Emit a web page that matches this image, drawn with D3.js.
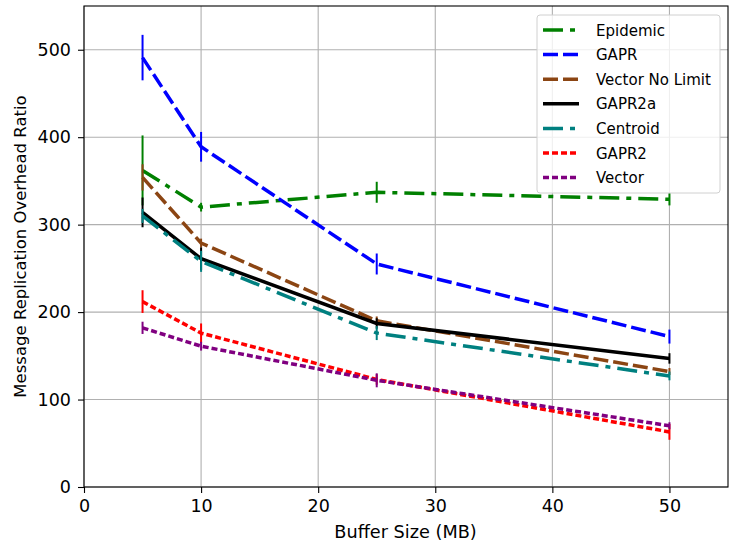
<!DOCTYPE html>
<html><head><meta charset="utf-8">
<script src="https://cdn.jsdelivr.net/npm/d3@7"></script>
<style>body{margin:0;background:#fff}svg{display:block}text{font-family:"DejaVu Sans",sans-serif;fill:#000}</style>
</head><body><svg id="c" width="730" height="548"></svg>
<script>
const bufferSizes = [5, 10, 25, 50];
const xTicks = [0, 10, 20, 30, 40, 50];
const yTicks = [0, 100, 200, 300, 400, 500];
const seriesNames = ["Epidemic", "GAPR", "Vector No Limit", "GAPR2a", "Centroid", "GAPR2", "Vector"];
const epidemic = [362, 320, 337, 329];
const epidemicErr = [40, 5, 12, 7];
const gapr = [491, 389, 255, 172];
const gaprErr = [26, 17, 12, 8];
const vectorNoLimit = [354, 279, 190, 132];
const vectorNoLimitErr = [15, 5, 5, 4];
const gapr2a = [314, 261, 187, 147];
const gapr2aErr = [17, 13, 6, 6];
const centroid = [310, 258, 176, 127];
const centroidErr = [8, 12, 8, 5];
const gapr2 = [212, 176, 123, 63];
const gapr2Err = [13, 11, 6, 9];
const vector = [182, 161, 122, 70];
const vectorErr = [7, 5, 8, 4];

const values = [epidemic, gapr, vectorNoLimit, gapr2a, centroid, gapr2, vector];
const errs = [epidemicErr, gaprErr, vectorNoLimitErr, gapr2aErr, centroidErr, gapr2Err, vectorErr];
const colors = ["#008000", "#0000ff", "#8b4513", "#000000", "#008080", "#ff0000", "#800080"];
const dashes = ["20,7,5,7", "15,5", "15,5", null, "20,7,5,7", "6,3", "6,3"];

const svg = d3.select("#c");
const L = 84, R = 728, T = 6, B = 487;
const x = d3.scaleLinear().domain([0, 55]).range([L, R]);
const y = d3.scaleLinear().domain([0, 550]).range([B, T]);

// grid
svg.append("g").selectAll("line").data(xTicks).join("line")
  .attr("x1", d => x(d)).attr("x2", d => x(d)).attr("y1", T).attr("y2", B)
  .attr("stroke", "#b0b0b0").attr("stroke-width", 1.1);
svg.append("g").selectAll("line").data(yTicks).join("line")
  .attr("x1", L).attr("x2", R).attr("y1", d => y(d)).attr("y2", d => y(d))
  .attr("stroke", "#b0b0b0").attr("stroke-width", 1.1);

// series
const line = d3.line().x(d => x(d[0])).y(d => y(d[1]));
values.forEach((vals, i) => {
  const g = svg.append("g");
  const pts = bufferSizes.map((b, j) => [b, vals[j], errs[i][j]]);
  g.selectAll("line").data(pts).join("line")
    .attr("x1", d => x(d[0])).attr("x2", d => x(d[0]))
    .attr("y1", d => y(d[1] - d[2])).attr("y2", d => y(d[1] + d[2]))
    .attr("stroke", colors[i]).attr("stroke-width", 2);
  g.append("path").attr("d", line(pts)).attr("fill", "none")
    .attr("stroke", colors[i]).attr("stroke-width", 3.5)
    .attr("stroke-dasharray", dashes[i]);
});

// axes
const xa = svg.append("g").attr("transform", `translate(0,${B})`)
  .call(d3.axisBottom(x).tickValues(xTicks).tickSize(6).tickPadding(7));
const ya = svg.append("g").attr("transform", `translate(${L},0)`)
  .call(d3.axisLeft(y).tickValues(yTicks).tickSize(6).tickPadding(7));
[xa, ya].forEach(a => {
  a.select(".domain").remove();
  a.selectAll(".tick line").attr("stroke", "#000").attr("stroke-width", 1.1);
  a.selectAll("text").attr("font-size", 17.5).attr("font-family", "DejaVu Sans");
});
svg.append("rect").attr("x", L).attr("y", T).attr("width", R - L).attr("height", B - T)
  .attr("fill", "none").attr("stroke", "#000").attr("stroke-width", 1.1);

svg.append("text").attr("x", (L + R) / 2 - 0.5).attr("y", 538).attr("text-anchor", "middle")
  .attr("font-size", 17.7).text("Buffer Size (MB)");
svg.append("text").attr("transform", `translate(26,${(T + B) / 2}) rotate(-90)`)
  .attr("text-anchor", "middle").attr("font-size", 16.5).text("Message Replication Overhead Ratio");

// legend
const lg = svg.append("g");
lg.append("rect").attr("x", 537).attr("y", 15).attr("width", 183).attr("height", 178)
  .attr("rx", 3).attr("fill", "#fff").attr("fill-opacity", 0.8)
  .attr("stroke", "#d0d0d0").attr("stroke-width", 1);
seriesNames.forEach((name, i) => {
  const yy = 30 + i * 24.6;
  lg.append("line").attr("x1", 543).attr("x2", 579).attr("y1", yy).attr("y2", yy)
    .attr("stroke", colors[i]).attr("stroke-width", 3.5).attr("stroke-dasharray", dashes[i]);
  lg.append("text").attr("x", 596).attr("y", yy + 5.5).attr("font-size", 15).text(name);
});
</script></body></html>
